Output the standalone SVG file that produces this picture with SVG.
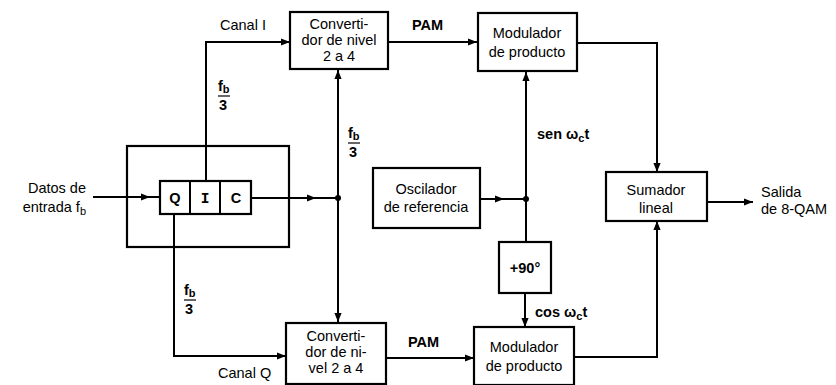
<svg xmlns="http://www.w3.org/2000/svg" width="836" height="385" viewBox="0 0 836 385">
<style>
.box{fill:#fff;stroke:#000;stroke-width:2.2}
.ln{fill:none;stroke:#000;stroke-width:2}
text{font-family:"Liberation Sans",Arial,sans-serif;font-size:14.5px;fill:#000}
.c{text-anchor:middle}
.b{font-weight:bold}
.sub{font-size:11px}
</style>
<defs>
<marker id="ah" viewBox="0 0 10 10" refX="10" refY="5" markerWidth="9" markerHeight="9" markerUnits="userSpaceOnUse" orient="auto">
<path d="M0,1 L10,5 L0,9 z" fill="#000"/>
</marker>
</defs>
<rect width="836" height="385" fill="#fff"/>
<g id="connectors">
<line class="ln" x1="93" y1="197" x2="150" y2="197" marker-end="url(#ah)"/>
<line class="ln" x1="150" y1="197" x2="160" y2="197"/>
<polyline class="ln" points="206,181 206,42 290,42" marker-end="url(#ah)"/>
<polyline class="ln" points="174,214 174,356 286,356" marker-end="url(#ah)"/>
<line class="ln" x1="251" y1="198" x2="316" y2="198" marker-end="url(#ah)"/>
<line class="ln" x1="316" y1="198" x2="338" y2="198"/>
<line class="ln" x1="338" y1="198" x2="338" y2="70" marker-end="url(#ah)"/>
<line class="ln" x1="338" y1="198" x2="338" y2="322" marker-end="url(#ah)"/>
<circle cx="338" cy="198" r="3"/>
<line class="ln" x1="388" y1="42" x2="477" y2="42" marker-end="url(#ah)"/>
<line class="ln" x1="386" y1="358" x2="474" y2="358" marker-end="url(#ah)"/>
<line class="ln" x1="480" y1="199" x2="504" y2="199" marker-end="url(#ah)"/>
<line class="ln" x1="504" y1="199" x2="526" y2="199"/>
<line class="ln" x1="526" y1="199" x2="526" y2="72" marker-end="url(#ah)"/>
<line class="ln" x1="526" y1="199" x2="526" y2="242"/>
<circle cx="526" cy="199" r="3"/>
<line class="ln" x1="525" y1="293" x2="525" y2="327" marker-end="url(#ah)"/>
<polyline class="ln" points="577,43 657,43 657,172" marker-end="url(#ah)"/>
<polyline class="ln" points="574,357 657,357 657,221" marker-end="url(#ah)"/>
<line class="ln" x1="707" y1="202" x2="753" y2="202" marker-end="url(#ah)"/>
</g>
<g id="input-label">
<text x="86" y="193" text-anchor="end">Datos de</text>
<text x="86" y="212" text-anchor="end">entrada f<tspan class="sub" dy="3">b</tspan></text>
</g>
<g id="splitter">
<rect x="127" y="146" width="162" height="101" fill="none" stroke="#000" stroke-width="2.2"/>
<rect class="box" x="160" y="181" width="91" height="33"/>
<line class="ln" x1="190" y1="181" x2="190" y2="214"/>
<line class="ln" x1="220" y1="181" x2="220" y2="214"/>
<text class="c b" x="175" y="203">Q</text>
<text class="c b" x="205" y="203" style="font-family:'Liberation Mono',monospace">I</text>
<text class="c b" x="236" y="203">C</text>
</g>
<g id="conv-i">
<rect class="box" x="290" y="12" width="98" height="57"/>
<text class="c" x="339" y="29">Converti-</text>
<text class="c" x="339" y="45">dor de nivel</text>
<text class="c" x="339" y="61">2 a 4</text>
</g>
<g id="conv-q">
<rect class="box" x="286" y="323" width="100" height="61"/>
<text class="c" x="336" y="341">Converti-</text>
<text class="c" x="336" y="357">dor de ni-</text>
<text class="c" x="336" y="373">vel 2 a 4</text>
</g>
<g id="mod-i">
<rect class="box" x="478" y="13" width="99" height="58"/>
<text class="c" x="527" y="38">Modulador</text>
<text class="c" x="527" y="57">de producto</text>
</g>
<g id="mod-q">
<rect class="box" x="474" y="327" width="100" height="58"/>
<text class="c" x="524" y="352">Modulador</text>
<text class="c" x="524" y="371">de producto</text>
</g>
<g id="oscilador">
<rect class="box" x="373" y="168" width="107" height="60"/>
<text class="c" x="426" y="194">Oscilador</text>
<text class="c" x="426" y="212">de referencia</text>
</g>
<g id="phase">
<rect class="box" x="499" y="242" width="52" height="51"/>
<text class="c b" x="525" y="273">+90°</text>
</g>
<g id="sumador">
<rect class="box" x="606" y="172" width="101" height="49"/>
<text class="c" x="656" y="195">Sumador</text>
<text class="c" x="656" y="213">lineal</text>
</g>
<g id="labels">
<text x="220" y="30">Canal I</text>
<text x="218" y="378">Canal Q</text>
<text class="b" x="412" y="30">PAM</text>
<text class="b" x="408" y="347">PAM</text>
<text class="b" x="537" y="139">sen ω<tspan class="sub" dy="3">c</tspan><tspan dy="-3">t</tspan></text>
<text class="b" x="535" y="317">cos ω<tspan class="sub" dy="3">c</tspan><tspan dy="-3">t</tspan></text>
<text x="761" y="197">Salida</text>
<text x="761" y="214">de 8-QAM</text>
<g class="frac">
<text class="b" x="218" y="91">f<tspan class="sub" dy="2">b</tspan></text>
<line x1="218" y1="96" x2="230" y2="96" stroke="#000" stroke-width="1.2"/>
<text class="b" x="219" y="110">3</text>
</g>
<g class="frac">
<text class="b" x="348" y="138">f<tspan class="sub" dy="2">b</tspan></text>
<line x1="348" y1="143" x2="360" y2="143" stroke="#000" stroke-width="1.2"/>
<text class="b" x="349" y="157">3</text>
</g>
<g class="frac">
<text class="b" x="184" y="295">f<tspan class="sub" dy="2">b</tspan></text>
<line x1="184" y1="300" x2="196" y2="300" stroke="#000" stroke-width="1.2"/>
<text class="b" x="185" y="314">3</text>
</g>
</g>
</svg>
